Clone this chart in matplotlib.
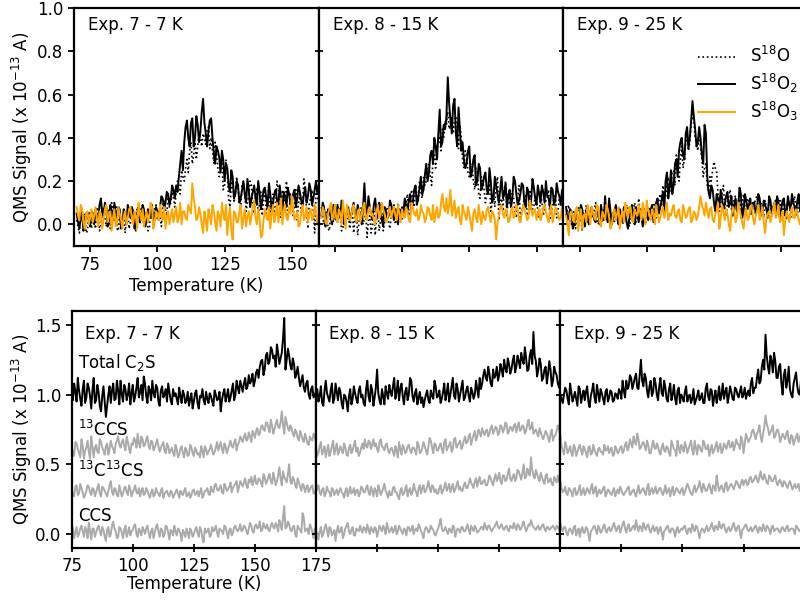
import numpy as np
import matplotlib
matplotlib.use("Agg")
import matplotlib.pyplot as plt

# ---------------- data (values in hundredths of 1e-13 A) -------------
# Main lists: integer temperatures; "_h" lists: half-integer temperatures.
T_TOP_START = 70   # K
T_BOT_START = 75   # K

# ----- Top row: S18O (dotted), S18O2 (solid), S18O3 (orange) -----
e7_s18o = [2, -4, 3, 5, -3, 2, 6, -2, 4, 0,
           8, -1, 5, 10, 2, -2, 6, 3, -4, 7,
           1, 5, -3, 4, 8, 0, 6, -2, 3, 7,
           2, 4, 9, 7, 13, 10, 12, 15, 18, 25,
           20, 30, 34, 28, 38, 36, 40, 42, 37, 45,
           40, 28, 32, 22, 30, 18, 24, 8, 20, 14,
           16, 8, 20, 6, 14, 18, 5, 17, 10, 4,
           15, 11, 2, 14, 8, 16, 3, 12, 20, 6,
           13, 9, 2, 14, 8, 17, -2, 12, 6, 15, 10]
e7_s18o_h = [-1, 5, 0, -4, 6, -2, 3, 8, -3, 5,
             3, 7, -2, 4, 9, -3, 1, 5, 2, -2,
             6, -1, 7, 0, 3, 5, -3, 6, 1, 9,
             6, -1, 11, 4, 8, 16, 8, 20, 14, 22,
             26, 24, 38, 32, 30, 42, 36, 40, 44, 35,
             34, 38, 26, 27, 16, 30, 12, 18, 10, 22,
             12, 18, 14, 10, 20, 8, 12, 3, 15, 12,
             5, 18, 9, 4, 20, 7, 16, 8, 2, 14,
             4, 16, 10, 5, 21, 6, 10, 16, -4, 13]
e7_s18o2 = [5, -2, 6, 0, 4, -1, 3, 7, 2, 12,
            4, 8, 2, 6, 10, 3, 7, 1, 5, 9,
            3, 6, 0, 8, 4, 7, 2, 5, 9, 3,
            6, 8, 12, 10, 14, 12, 16, 18, 22, 34,
            38, 48, 36, 49, 40, 46, 43, 58, 42, 43,
            49, 33, 36, 31, 34, 20, 26, 15, 22, 14,
            18, 12, 20, 10, 16, 12, 18, 9, 15, 11,
            17, 8, 14, 10, 16, 9, 12, 15, 8, 14,
            10, 16, 12, 15, 9, 17, 13, 16, 12, 20, 18]
e7_s18o2_h = [1, 3, -3, 5, 2, 6, 0, 4, 9, 5,
              10, -1, 9, 2, 6, 8, -2, 7, 0, 6,
              8, -2, 5, 1, 9, -1, 7, 3, 0, 8,
              2, 13, 7, 15, 9, 18, 12, 15, 28, 25,
              45, 40, 47, 36, 50, 38, 52, 47, 36, 48,
              40, 28, 34, 24, 30, 28, 18, 25, 12, 20,
              10, 16, 14, 21, 8, 15, 12, 20, 7, 16,
              12, 19, 7, 14, 11, 18, 6, 13, 17, 9,
              14, 8, 18, 11, 14, 10, 19, 9, 16, 14]
e7_s18o3 = [8, 2, 7, -2, 6, 3, 1, 8, -1, 5,
            2, 9, 4, -3, 7, 1, 5, -2, 6, 3,
            8, 0, 4, 10, 2, -1, 6, 3, 8, 1,
            5, 9, 2, -2, 6, 4, 1, 8, 3, 0,
            6, 2, 7, 19, 8, 3, 5, -4, 2, 7,
            0, 6, -3, 4, 10, 2, -5, 8, -7, 5,
            1, 9, 3, -1, 6, 4, 11, 0, 3, -5,
            7, 2, -2, 9, 4, 1, 12, 6, 3, 8,
            13, 2, 6, 0, 9, 4, 1, 7, 3, 6, 2]
e7_s18o3_h = [4, 9, 1, 5, 0, 7, 4, 3, 6, -2,
              7, 1, 6, 3, -1, 8, 2, 4, 0, 7,
              3, 6, -2, 5, 7, 3, 1, 10, -2, 6,
              2, 4, 8, 3, 0, 7, 5, 1, 10, 6,
              3, 9, 5, 12, 2, 8, 0, 6, -3, 4,
              9, 1, 6, -1, 5, 9, 3, -2, 6, 1,
              6, -2, 7, 4, 0, 8, 3, 7, -6, 2,
              4, 8, 5, 1, 10, 6, 0, 9, 2, 5,
              7, 4, -1, 6, 2, 8, 5, 2, 9, 0]

e8_s18o = [8, 0, 5, -3, 4, 9, 1, 6, -2, 3,
           7, 2, -4, 5, 1, 8, 3, -6, 4, 0,
           -5, 6, 2, -3, 7, 1, 4, 9, 3, 6,
           2, 8, 14, 5, 12, 18, 10, 15, 22, 20,
           28, 18, 32, 36, 40, 44, 48, 52, 46, 42,
           50, 35, 40, 26, 32, 22, 28, 16, 24, 12,
           20, 10, 16, 6, 14, 18, 2, 12, 16, 4,
           10, 15, 6, 12, 1, 9, 14, 5, 11, 8,
           13, 3, 10, 7, 12, 2, 9, 14, 6, 11, 8]
e8_s18o_h = [3, 6, -2, 7, 1, 4, 8, -3, 5, 2,
             -2, 6, 3, -5, 7, 0, 5, 2, -4, 6,
             3, -3, 5, 1, 8, -2, 6, 0, 10, 2,
             6, 10, 4, 16, 8, 14, 20, 12, 18, 26,
             22, 30, 26, 38, 34, 40, 46, 44, 50, 48,
             44, 46, 30, 34, 24, 28, 20, 26, 14, 22,
             16, 14, 20, 10, 8, 22, 10, 6, 20, 14,
             8, 12, 3, 18, 6, 12, 4, 16, 7, 13,
             6, 15, 4, 11, 16, 5, 12, 3, 13, 9]
e8_s18o2 = [4, 8, 2, 6, 0, 5, 9, 3, 7, 2,
            8, 4, 10, 1, 6, 0, 19, 5, 8, 2,
            12, 3, 7, -1, 6, 4, 9, 2, 5, 7,
            8, 12, 6, 14, 10, 18, 12, 22, 16, 28,
            24, 34, 40, 30, 53, 38, 44, 68, 48, 55,
            42, 54, 34, 30, 28, 36, 24, 32, 20, 26,
            18, 24, 14, 20, 12, 18, 10, 22, 14, 8,
            16, 12, 20, 9, 14, 18, 8, 15, 11, 17,
            9, 14, 18, 10, 13, 8, 16, 11, 15, 9, 12]
e8_s18o2_h = [10, -1, 7, 3, 9, 2, 5, 11, 0, 6,
              2, 7, 5, 9, 3, 8, 6, 13, 4, 9,
              6, 10, 2, 8, 3, 11, 5, 7, 0, 4,
              5, 9, 11, 7, 16, 9, 17, 14, 23, 20,
              32, 28, 36, 42, 36, 46, 50, 56, 42, 58,
              36, 44, 38, 26, 34, 22, 30, 18, 28, 16,
              22, 16, 26, 10, 22, 14, 16, 12, 19, 13,
              8, 22, 14, 11, 19, 10, 17, 7, 21, 12,
              18, 10, 15, 20, 12, 17, 9, 19, 13, 16]
e8_s18o3 = [3, 6, 0, 7, 2, 9, 1, 5, 11, -2,
            6, 3, 9, 1, 7, 4, 10, 2, 8, 5,
            0, 9, 4, 7, 1, 6, 3, 8, 2, 5,
            7, 3, 6, 1, 8, 4, 2, 9, 5, 3,
            7, 2, 1, 8, 4, 14, 6, 5, 16, 7,
            3, 8, 0, 6, 2, 5, -3, 7, 1, 4,
            6, 2, 8, 1, 5, -7, 4, 9, 3, 6,
            2, 8, 4, 7, 1, 9, 5, 3, 8, 6,
            2, 7, 4, 9, 3, 6, 1, 8, 5, 3, 7]
e8_s18o3_h = [8, 1, 5, 10, 4, 3, 7, 0, 6, 9,
              2, 7, 4, 6, 1, 8, 3, 7, 4, 2,
              6, 3, 10, 5, 2, 8, 6, 4, 9, 1,
              4, 8, 2, 10, 5, 7, 3, 6, 1, 8,
              4, 9, 5, 3, 10, 8, 12, 9, 4, 11,
              6, 2, 9, 4, 8, 1, 5, 3, 9, 0,
              3, 7, 4, 6, 2, 1, 8, 5, 7, 1,
              6, 3, 9, 2, 5, 7, 2, 11, 4, 7,
              5, 2, 8, 6, 1, 9, 4, 6, 2, 8]

e9_s18o = [4, 9, 0, 5, 2, 7, -3, 4, 1, 6,
           3, 10, 0, 5, 7, 2, 8, 4, 1, 6,
           3, 0, 5, 8, 2, 6, 1, 12, 4, 7,
           3, 8, 5, 10, 6, 14, 18, 12, 22, 18,
           25, 32, 20, 36, 30, 42, 38, 52, 40, 34,
           36, 22, 28, 15, 20, 29, 24, 6, 14, 8,
           10, 16, 5, 13, 9, 3, 14, 7, 11, 4,
           9, 13, 5, 8, 11, 3, 10, 6, 12, 4,
           8, 11, 2, 9, 6, 13, 4, 8, 10, 5, 7]
e9_s18o_h = [7, 1, 6, -2, 8, 3, 5, 9, 2, 4,
             7, 2, 6, 1, 4, 9, 0, 6, 3, 8,
             6, 2, 9, -1, 4, 10, 3, 6, 9, 0,
             6, 2, 9, 3, 11, 9, 14, 20, 15, 24,
             18, 28, 30, 26, 38, 34, 46, 48, 38, 42,
             30, 26, 18, 22, 25, 26, 14, 10, 18, 4,
             13, 7, 12, 6, 15, 10, 8, 12, 6, 9,
             12, 6, 10, 3, 8, 12, 4, 9, 6, 11,
             4, 7, 12, 3, 10, 6, 12, 5, 9, 3]
e9_s18o2 = [8, 3, 6, 0, 5, 2, 7, -1, 4, 3,
            6, 1, 5, 9, 2, 4, 12, 0, 6, 3,
            7, 2, 5, -2, 6, 3, 8, 1, 4, 2,
            6, 3, 9, 5, 12, 8, 15, 20, 12, 25,
            18, 30, 34, 40, 30, 45, 40, 57, 44, 38,
            40, 28, 42, 15, 18, 10, 14, 8, 12, 9,
            15, 10, 4, 12, 8, 14, 6, 11, 9, 5,
            10, 7, 12, 6, 9, 4, 11, 8, 5, 10,
            7, 12, 6, 9, 14, 8, 11, 6, 10, 8, 12]
e9_s18o2_h = [2, 7, -2, 6, 1, 9, 3, 6, 0, 8,
              2, 8, 0, 4, 13, 1, 6, 3, 9, 0,
              4, 8, 1, 3, 9, 0, 5, 7, -1, 5,
              2, 7, 1, 10, 5, 11, 6, 24, 17, 14,
              28, 22, 38, 32, 42, 35, 48, 50, 36, 45,
              32, 46, 22, 12, 16, 6, 12, 16, 7, 13,
              8, 13, 9, 6, 17, 3, 14, 7, 12, 10,
              5, 14, 4, 11, 7, 13, 5, 10, 13, 3,
              11, 4, 13, 7, 10, 5, 14, 8, 4, 10]
e9_s18o3 = [4, -5, 6, 1, 8, 3, -2, 5, 9, 0,
            6, 2, 8, -1, 4, 9, 3, 0, 7, 5,
            -2, 6, 10, 3, 8, 1, 5, 9, 2, 6,
            11, 4, 7, 0, 5, 3, 8, 6, 2, 4,
            9, 3, 7, 1, 6, 4, 8, 2, 5, 4,
            13, 7, 10, 3, 8, 1, 6, -2, 9, 2,
            5, -3, 8, 1, 10, 4, -2, 7, 3, 9,
            0, 6, 2, 8, -4, 5, 1, 7, 3, 9,
            2, -5, 6, 1, 8, 3, 5, 0, 7, 4, 6]
e9_s18o3_h = [0, 5, 2, 6, -3, 7, 4, 1, 6, 8,
              3, 9, 1, 6, 2, 7, -2, 5, 2, 8,
              4, 1, 6, 8, 2, 7, 4, 6, 10, 0,
              7, 2, 5, 9, 1, 6, 3, 10, 5, 7,
              4, 6, 2, 9, 3, 7, 1, 6, 2, 8,
              9, 4, 6, 7, 2, 5, 10, 3, 6, 7,
              0, 4, 6, 3, 7, 1, 5, 2, 8, 3,
              4, 9, 5, 1, 3, 6, 4, 10, 5, 1,
              6, 2, 4, 6, 3, 7, 2, 5, 1, 8]

# ----- Bottom row: Total C2S, 13CCS, 13C13CS, CCS (stacked as plotted) -----
e7_total = [100, 108, 95, 103, 92, 110, 98, 105, 90, 112,
            96, 102, 88, 106, 84, 100, 94, 108, 97, 103,
            110, 95, 104, 100, 93, 107, 99, 112, 102, 96,
            108, 94, 103, 110, 98, 105, 92, 106, 100, 95,
            102, 93, 99, 97, 105, 94, 100, 96, 92, 101,
            95, 103, 90, 98, 96, 102, 94, 99, 92, 100,
            97, 88, 101, 95, 104, 98, 108, 100, 105, 110,
            102, 112, 106, 108, 115, 110, 118, 120, 125, 118,
            130, 124, 132, 128, 136, 122, 130, 155, 125, 128,
            118, 122, 115, 112, 110, 105, 108, 100, 104, 98, 102]
e7_total_h = [96, 102, 112, 97, 104, 94, 108, 99, 103, 94,
              107, 92, 99, 95, 92, 106, 103, 96, 110, 93,
              100, 107, 96, 108, 101, 95, 105, 98, 107, 113,
              99, 106, 96, 101, 107, 95, 103, 98, 104, 108,
              96, 104, 101, 93, 99, 103, 94, 102, 97, 90,
              101, 94, 99, 104, 93, 97, 101, 95, 103, 96,
              102, 96, 104, 99, 95, 103, 96, 110, 101, 106,
              108, 104, 114, 110, 106, 116, 112, 124, 114, 128,
              122, 134, 126, 120, 130, 126, 140, 118, 133, 121,
              126, 112, 120, 106, 114, 102, 110, 97, 106, 100]
e7_13ccs = [62, 56, 65, 58, 68, 54, 62, 59, 70, 55,
            64, 58, 66, 60, 63, 57, 67, 61, 65, 70,
            62, 68, 60, 66, 58, 64, 67, 72, 62, 68,
            64, 70, 61, 66, 62, 68, 59, 64, 60, 65,
            58, 62, 56, 61, 57, 63, 55, 60, 57, 62,
            56, 60, 58, 63, 55, 61, 59, 64, 57, 62,
            60, 66, 58, 63, 61, 67, 62, 68, 64, 70,
            66, 72, 68, 70, 74, 69, 76, 72, 78, 74,
            80, 73, 78, 75, 82, 76, 88, 72, 80, 74,
            76, 70, 73, 67, 71, 66, 69, 64, 68, 72, 66]
e7_13ccs_h = [59, 66, 61, 55, 63, 60, 67, 54, 63, 62,
              59, 68, 62, 57, 65, 61, 63, 58, 67, 64,
              66, 63, 70, 61, 65, 69, 62, 65, 70, 63,
              68, 63, 67, 60, 65, 63, 62, 66, 58, 63,
              60, 58, 64, 55, 61, 58, 62, 56, 64, 58,
              62, 57, 55, 60, 63, 57, 61, 60, 59, 66,
              63, 61, 65, 58, 64, 63, 66, 60, 66, 68,
              70, 67, 73, 66, 72, 74, 71, 77, 75, 80,
              76, 82, 72, 79, 77, 80, 78, 84, 76, 78,
              72, 75, 69, 74, 68, 72, 65, 70, 67, 70]
e7_13c13cs = [32, 27, 35, 29, 33, 26, 31, 34, 28, 32,
              30, 36, 27, 33, 29, 31, 38, 28, 32, 27,
              31, 29, 34, 28, 32, 30, 35, 29, 27, 33,
              29, 31, 26, 32, 28, 30, 27, 33, 29, 31,
              27, 30, 28, 32, 26, 29, 31, 27, 30, 28,
              32, 29, 27, 33, 28, 31, 29, 34, 30, 36,
              31, 35, 29, 34, 32, 37, 33, 36, 30, 38,
              34, 40, 33, 37, 35, 42, 36, 39, 34, 41,
              38, 43, 36, 40, 38, 48, 35, 41, 37, 50,
              36, 39, 33, 37, 31, 35, 33, 30, 34, 29, 32]
e7_13c13cs_h = [29, 34, 28, 36, 30, 28, 35, 30, 33, 27,
                33, 29, 34, 31, 27, 35, 30, 33, 28, 35,
                27, 33, 30, 35, 27, 32, 30, 33, 31, 28,
                33, 28, 30, 27, 33, 29, 31, 26, 30, 28,
                31, 26, 30, 29, 31, 28, 33, 28, 26, 31,
                28, 31, 30, 26, 31, 33, 28, 31, 35, 32,
                33, 30, 36, 31, 34, 30, 35, 38, 34, 36,
                37, 35, 39, 41, 38, 36, 40, 37, 43, 36,
                41, 38, 44, 35, 42, 40, 45, 39, 43, 38,
                41, 35, 40, 34, 36, 30, 35, 32, 35, 30]
e7_ccs = [2, -3, 5, 0, 6, -2, 3, 8, -4, 4,
          1, 6, -1, 3, -5, 5, 0, 9, 2, -2,
          4, -3, 6, 1, -1, 3, 7, -2, 2, 5,
          0, 6, -3, 4, 1, 7, -2, 3, 0, 5,
          -4, 2, 6, -1, 3, -5, 1, 4, -3, 2,
          0, 5, -2, 3, -6, 1, 4, -1, 2, 6,
          -2, 3, 0, 5, -3, 4, 1, 6, 2, 7,
          3, 5, 0, 8, 2, 6, 4, 9, 3, 5,
          7, 2, 8, 4, 6, 10, 3, 20, 5, 7,
          2, 6, -2, 4, 1, 12, 3, 0, 5, -3, 2]
e7_ccs_h = [5, 1, -2, 4, 2, 5, -3, 2, 4, -2,
            4, 2, 5, -2, 3, -2, 6, 4, -3, 5,
            1, 3, -2, 5, 2, 6, 0, 4, -1, 3,
            4, 1, 2, -3, 5, 2, 4, -2, 6, 1,
            3, -1, 2, 4, 0, 3, -2, 1, 4, -2,
            3, 1, 5, -3, 4, 2, -2, 5, 3, 1,
            4, 2, 6, 1, 3, -1, 5, 3, 4, 2,
            6, 2, 4, 6, 1, 7, 5, 2, 8, 4,
            3, 6, 5, 8, 2, 7, 12, 4, 9, 3,
            5, 0, 6, 3, 15, 2, 4, 7, 1, 4]

e8_total = [100, 95, 106, 92, 110, 98, 103, 94, 108, 96,
            102, 90, 99, 88, 104, 97, 101, 94, 106, 100,
            92, 110, 95, 103, 98, 118, 96, 104, 93, 101,
            107, 99, 112, 102, 96, 108, 93, 105, 100, 110,
            95, 104, 98, 94, 91, 100, 96, 103, 97, 106,
            99, 94, 102, 96, 108, 100, 112, 97, 104, 100,
            110, 98, 106, 95, 102, 100, 104, 112, 108, 118,
            110, 115, 106, 112, 120, 114, 118, 125, 116, 122,
            118, 128, 120, 124, 130, 122, 126, 118, 132, 145,
            124, 118, 122, 112, 120, 115, 118, 110, 116, 108, 112]
e8_total_h = [104, 99, 94, 103, 101, 95, 108, 97, 102, 105,
              94, 100, 95, 99, 93, 106, 97, 103, 98, 94,
              104, 99, 107, 92, 105, 101, 93, 99, 106, 97,
              102, 106, 97, 110, 104, 99, 102, 96, 112, 99,
              101, 93, 102, 98, 96, 103, 94, 99, 110, 98,
              103, 97, 108, 101, 95, 106, 99, 108, 95, 105,
              96, 103, 99, 105, 97, 110, 98, 104, 114, 112,
              120, 108, 118, 114, 110, 122, 113, 119, 126, 115,
              124, 116, 128, 119, 125, 134, 117, 128, 122, 128,
              113, 126, 110, 118, 108, 124, 106, 120, 114, 105]
e8_13ccs = [62, 58, 66, 60, 55, 64, 59, 67, 61, 57,
            63, 58, 62, 56, 64, 60, 67, 62, 58, 65,
            68, 62, 66, 64, 63, 61, 66, 63, 60, 65,
            58, 62, 56, 60, 66, 57, 62, 59, 64, 58,
            62, 57, 64, 59, 66, 60, 63, 67, 58, 64,
            60, 65, 58, 68, 62, 66, 61, 69, 64, 67,
            63, 70, 66, 72, 68, 74, 70, 73, 76, 71,
            75, 72, 78, 74, 76, 73, 77, 75, 79, 74,
            76, 78, 73, 80, 75, 77, 74, 82, 76, 72,
            75, 70, 73, 68, 74, 69, 72, 67, 71, 78, 70]
e8_13ccs_h = [56, 63, 57, 63, 60, 56, 63, 57, 65, 60,
              60, 65, 57, 62, 58, 64, 59, 56, 62, 61,
              63, 67, 61, 68, 65, 59, 68, 62, 64, 60,
              61, 59, 63, 55, 61, 64, 58, 63, 60, 62,
              60, 66, 58, 62, 63, 57, 69, 62, 65, 60,
              63, 61, 66, 60, 64, 59, 68, 62, 65, 61,
              67, 65, 70, 64, 71, 67, 75, 70, 73, 74,
              70, 76, 72, 77, 71, 78, 73, 80, 72, 77,
              74, 79, 77, 74, 78, 72, 79, 75, 80, 74,
              72, 76, 70, 71, 72, 66, 75, 70, 74, 76]
e8_13c13cs = [30, 35, 28, 33, 29, 31, 27, 32, 30, 28,
              33, 29, 31, 27, 34, 30, 28, 32, 29, 33,
              30, 35, 28, 31, 33, 27, 32, 30, 36, 29,
              31, 28, 34, 30, 25, 33, 29, 35, 31, 28,
              36, 30, 33, 29, 35, 31, 38, 30, 34, 32,
              29, 35, 31, 37, 33, 30, 36, 32, 38, 34,
              31, 37, 33, 40, 35, 38, 34, 41, 36, 39,
              35, 42, 37, 40, 38, 44, 36, 42, 39, 47,
              38, 43, 40, 45, 39, 50, 41, 44, 55, 42,
              46, 40, 44, 38, 42, 37, 40, 35, 39, 42, 36]
e8_13c13cs_h = [33, 30, 32, 27, 34, 30, 33, 28, 32, 31,
                30, 26, 33, 30, 29, 33, 31, 27, 34, 30,
                33, 30, 34, 27, 31, 35, 28, 33, 31, 26,
                28, 33, 30, 27, 31, 28, 32, 27, 33, 30,
                32, 27, 35, 33, 30, 34, 33, 35, 30, 29,
                33, 29, 34, 31, 36, 33, 30, 35, 32, 31,
                35, 33, 36, 37, 33, 40, 38, 36, 38, 35,
                38, 40, 35, 43, 40, 38, 42, 38, 43, 40,
                41, 38, 46, 42, 44, 40, 47, 42, 46, 40,
                43, 38, 41, 36, 43, 38, 36, 41, 37, 38]
e8_ccs = [3, -4, 5, 0, 7, -2, 4, 1, -5, 6,
          2, -3, 4, 8, 0, 5, -1, 3, 6, 1,
          4, 7, 0, 3, 5, -2, 6, 2, 4, 8,
          1, 5, 3, 0, 6, 2, 4, -1, 5, 3,
          0, 4, 7, 2, -3, 5, 1, 6, 3, -1,
          4, 11, 2, 5, 0, 3, 6, -2, 4, 1,
          5, 2, 7, 0, 4, 6, 1, 3, 5, 8,
          3, 6, 2, 5, 9, 4, 7, 3, 6, 2,
          5, 8, 3, 6, 4, 9, 2, 7, 10, 5,
          3, 6, 4, 7, 2, 5, 4, 6, 3, 5, 2]
e8_ccs_h = [0, 2, -2, 4, 3, 5, -1, 3, 2, 1,
            5, 0, 6, 2, 3, -1, 4, 2, 3, 5,
            1, 3, 5, 1, 4, 2, 4, 6, 0, 4,
            3, 1, 6, 2, 4, 0, 3, 5, 2, 6,
            3, 2, 5, 0, 3, 4, 2, 4, 0, 2,
            7, 4, 3, 2, 4, 1, 5, 2, 3, 5,
            2, 4, 3, 6, 2, 4, 2, 5, 3, 5,
            6, 3, 4, 7, 5, 6, 4, 5, 3, 6,
            4, 5, 7, 3, 7, 5, 4, 6, 7, 4,
            5, 3, 6, 4, 5, 3, 5, 4, 6, 3]

e9_total = [100, 94, 105, 97, 108, 95, 102, 92, 104, 99,
            96, 106, 91, 103, 98, 107, 95, 101, 93, 104,
            98, 102, 96, 100, 104, 97, 103, 110, 106, 112,
            108, 115, 104, 125, 106, 112, 98, 110, 102, 108,
            96, 112, 99, 105, 95, 108, 100, 97, 103, 94,
            98, 102, 95, 100, 97, 93, 99, 96, 101, 94,
            108, 96, 103, 98, 94, 106, 100, 97, 105, 99,
            102, 96, 104, 98, 106, 100, 97, 103, 108, 101,
            105, 118, 110, 125, 143, 120, 128, 116, 124, 112,
            122, 100, 118, 110, 104, 98, 112, 106, 100, 108, 104]
e9_total_h = [97, 100, 103, 93, 102, 98, 97, 106, 94, 103,
              102, 95, 99, 108, 94, 101, 104, 97, 102, 95,
              103, 95, 101, 97, 102, 110, 98, 104, 114, 104,
              112, 105, 114, 110, 115, 103, 106, 99, 112, 100,
              106, 101, 110, 97, 104, 96, 107, 93, 105, 100,
              95, 106, 99, 94, 104, 96, 103, 98, 94, 104,
              99, 104, 92, 103, 99, 96, 108, 102, 94, 106,
              97, 105, 100, 102, 98, 105, 101, 99, 112, 105,
              112, 108, 120, 118, 128, 115, 124, 130, 112, 120,
              108, 114, 105, 120, 100, 108, 116, 101, 110, 99]
e9_13ccs = [72, 60, 66, 58, 63, 56, 62, 59, 64, 57,
            61, 55, 63, 58, 60, 56, 62, 59, 64, 60,
            58, 62, 57, 61, 59, 63, 60, 66, 62, 65,
            70, 64, 68, 62, 66, 60, 64, 58, 67, 61,
            63, 57, 65, 59, 62, 56, 64, 60, 67, 58,
            62, 66, 58, 64, 60, 67, 57, 63, 59, 65,
            61, 56, 64, 60, 66, 62, 58, 65, 61, 67,
            63, 60, 68, 64, 70, 58, 72, 66, 70, 75,
            68, 74, 70, 72, 85, 76, 73, 78, 70, 75,
            66, 72, 68, 74, 65, 70, 67, 72, 69, 66, 70]
e9_13ccs_h = [63, 57, 63, 60, 58, 64, 56, 62, 60, 63,
              58, 62, 57, 64, 58, 61, 59, 57, 60, 63,
              61, 56, 63, 58, 62, 58, 64, 60, 68, 62,
              66, 72, 61, 65, 63, 67, 58, 63, 62, 65,
              59, 62, 60, 63, 58, 67, 61, 56, 62, 64,
              59, 63, 61, 67, 57, 62, 64, 60, 67, 61,
              64, 60, 58, 63, 59, 65, 60, 63, 65, 62,
              66, 63, 65, 61, 67, 65, 69, 68, 74, 71,
              72, 78, 66, 77, 79, 71, 75, 69, 74, 72,
              69, 70, 72, 67, 71, 64, 70, 66, 72, 68]
e9_13c13cs = [38, 30, 34, 28, 32, 27, 33, 29, 35, 30,
              28, 33, 29, 36, 31, 27, 32, 30, 34, 29,
              31, 28, 33, 30, 29, 32, 28, 31, 34, 29,
              32, 27, 35, 30, 33, 28, 36, 31, 29, 34,
              30, 33, 28, 35, 31, 27, 34, 30, 32, 29,
              33, 30, 36, 31, 28, 35, 32, 38, 30, 34,
              31, 36, 29, 34, 42, 31, 35, 30, 37, 33,
              36, 32, 38, 34, 37, 35, 39, 36, 41, 38,
              42, 37, 45, 39, 40, 36, 41, 38, 42, 35,
              39, 34, 37, 33, 38, 32, 36, 34, 31, 35, 33]
e9_13c13cs_h = [33, 31, 29, 33, 30, 32, 28, 32, 28, 33,
                30, 31, 33, 29, 34, 30, 29, 33, 27, 32,
                29, 31, 27, 32, 34, 29, 30, 33, 28, 31,
                29, 31, 29, 32, 30, 33, 28, 33, 31, 29,
                33, 30, 31, 29, 33, 31, 28, 33, 30, 32,
                28, 33, 34, 29, 32, 30, 34, 33, 36, 31,
                34, 32, 35, 31, 36, 33, 32, 36, 31, 35,
                34, 35, 37, 33, 39, 38, 35, 40, 37, 40,
                39, 41, 40, 43, 37, 42, 38, 40, 37, 38,
                36, 38, 35, 36, 35, 34, 33, 36, 32, 34]
e9_ccs = [8, 2, 5, -1, 4, 0, 6, 2, -2, 5,
          1, 4, -5, 3, 6, 0, 4, 2, 7, 1,
          5, 3, 8, 2, 6, 4, 9, 1, 7, 3,
          6, 10, 2, 5, 8, 3, 7, 1, 6, 4,
          0, 5, -4, 3, 6, 1, 4, -2, 5, 2,
          3, 6, 0, 4, 7, 2, 5, -3, 4, 1,
          6, 3, 8, 2, 5, 9, 4, 7, 1, 5,
          3, 8, 2, 6, -3, 4, 7, 2, 5, 3,
          6, 1, 4, 7, 2, 5, 0, 6, 3, 4,
          1, 5, 2, 6, 3, 4, 0, 5, 2, 3, 1]
e9_ccs_h = [4, 5, 1, 3, 2, 5, -1, 4, 3, 1,
            5, 0, 2, 5, 3, 6, 1, 5, 3, 4,
            2, 6, 4, 5, 1, 7, 4, 5, 2, 5,
            3, 5, 6, 2, 5, 6, 3, 4, 2, 5,
            3, 1, 2, 5, 2, 4, 2, 3, 1, 4,
            5, 2, 4, 1, 4, 6, 1, 2, 3, 4,
            2, 5, 4, 6, 3, 5, 7, 3, 4, 2,
            6, 4, 5, 2, 3, 6, 4, 3, 2, 5,
            3, 5, 2, 4, 6, 3, 5, 2, 4, 2,
            4, 3, 5, 2, 4, 3, 6, 3, 4, 2]

panel_titles = ["Exp. 7 - 7 K", "Exp. 8 - 15 K", "Exp. 9 - 25 K"]
top_series = [((e7_s18o, e7_s18o_h), (e7_s18o2, e7_s18o2_h), (e7_s18o3, e7_s18o3_h)),
              ((e8_s18o, e8_s18o_h), (e8_s18o2, e8_s18o2_h), (e8_s18o3, e8_s18o3_h)),
              ((e9_s18o, e9_s18o_h), (e9_s18o2, e9_s18o2_h), (e9_s18o3, e9_s18o3_h))]
bot_series = [((e7_total, e7_total_h), (e7_13ccs, e7_13ccs_h),
               (e7_13c13cs, e7_13c13cs_h), (e7_ccs, e7_ccs_h)),
              ((e8_total, e8_total_h), (e8_13ccs, e8_13ccs_h),
               (e8_13c13cs, e8_13c13cs_h), (e8_ccs, e8_ccs_h)),
              ((e9_total, e9_total_h), (e9_13ccs, e9_13ccs_h),
               (e9_13c13cs, e9_13c13cs_h), (e9_ccs, e9_ccs_h))]
legend_labels = ["S$^{18}$O", "S$^{18}$O$_2$", "S$^{18}$O$_3$"]
trace_labels = ["Total C$_2$S", "$^{13}$CCS", "$^{13}$C$^{13}$CS", "CCS"]
trace_label_y = [1.23, 0.75, 0.45, 0.13]
top_xticks = [75, 100, 125, 150]
top_yticks = [0.0, 0.2, 0.4, 0.6, 0.8, 1.0]
bot_xticks = [75, 100, 125, 150, 175]
bot_yticks = [0.0, 0.5, 1.0, 1.5]


def merged(t0, pair):
    """Interleave integer-K readings with half-K readings."""
    main, half = pair
    n = min(len(main), len(half) + 1)
    y = np.empty(2 * n - 1)
    y[::2] = np.array(main[:n]) / 100.0
    y[1::2] = np.array(half[:n - 1]) / 100.0
    x = t0 + 0.5 * np.arange(2 * n - 1)
    return x, y


# ---------------- figure ----------------
plt.rcParams['font.family'] = ['DejaVu Sans']
plt.rcParams['font.size'] = 12
fig = plt.figure(figsize=(8.0, 6.04), dpi=100)

W, H = 800.0, 604.0
ORANGE = '#FFA500'
GRAY = '#AAAAAA'
ylab = "QMS Signal (x 10$^{-13}$ A)"


def style_axes(ax, first, xdir, ydir):
    for s in ax.spines.values():
        s.set_linewidth(1.6)
    ax.tick_params(axis='x', direction=xdir, length=6 if xdir == 'inout' else 4,
                   width=1.3, labelsize=12, top=False)
    ax.tick_params(axis='y', direction=ydir, length=6 if ydir == 'inout' else 4,
                   width=1.3, labelsize=12, right=False)
    if not first:
        ax.tick_params(labelleft=False, labelbottom=False)


# top row
TW = 244.7
top_lefts = [74, 74 + TW, 74 + 2 * TW]
for i, left in enumerate(top_lefts):
    ax = fig.add_axes([left / W, (H - 246) / H, TW / W, 238 / H])
    p1, p2, p3 = top_series[i]
    x, y = merged(T_TOP_START, p1)
    ax.plot(x, y, color='black', ls=':', lw=1.2, label=legend_labels[0])
    x, y = merged(T_TOP_START, p2)
    ax.plot(x, y, color='black', ls='-', lw=1.4, label=legend_labels[1])
    x, y = merged(T_TOP_START, p3)
    ax.plot(x, y, color=ORANGE, ls='-', lw=1.4, label=legend_labels[2])
    ax.set_xlim(69, 160)
    ax.set_ylim(-0.1, 1.0)
    ax.set_xticks(top_xticks)
    ax.set_yticks(top_yticks)
    style_axes(ax, i == 0, 'out', 'out' if i == 0 else 'inout')
    ax.text(0.057, 0.965, panel_titles[i], transform=ax.transAxes, va='top', ha='left',
            fontsize=12)
    if i == 0:
        ax.set_xlabel("Temperature (K)", fontsize=12, labelpad=2)
        ax.set_ylabel(ylab, fontsize=12, labelpad=2)
    if i == 2:
        ax.legend(loc='upper left', bbox_to_anchor=(690 / W, 1 - 38 / H),
                  bbox_transform=fig.transFigure, frameon=False, fontsize=12,
                  handlelength=2.2, labelspacing=0.3, handletextpad=0.9,
                  borderpad=0.0)

# bottom row
BW = 244.3
bot_lefts = [71.7, 71.7 + BW, 71.7 + 2 * BW]
for i, left in enumerate(bot_lefts):
    ax = fig.add_axes([left / W, (H - 548) / H, BW / W, 237 / H])
    tot, c13, c1313, ccs = bot_series[i]
    for pair, col in ((ccs, GRAY), (c1313, GRAY), (c13, GRAY), (tot, 'black')):
        x, y = merged(T_BOT_START, pair)
        ax.plot(x, y, color=col, lw=1.4)
    ax.set_xlim(75, 175)
    ax.set_ylim(-0.1, 1.6)
    ax.set_xticks(bot_xticks)
    ax.set_yticks(bot_yticks)
    style_axes(ax, i == 0, 'inout', 'out' if i == 0 else 'inout')
    ax.text(0.055, 0.94, panel_titles[i], transform=ax.transAxes, va='top', ha='left',
            fontsize=12)
    if i == 0:
        for lab, yv in zip(trace_labels, trace_label_y):
            ax.text(77.5, yv, lab, va='center', ha='left', fontsize=12)
        ax.set_xlabel("Temperature (K)", fontsize=12, labelpad=0)
        ax.set_ylabel(ylab, fontsize=12, labelpad=1)

fig.savefig("out.png", dpi=100)
